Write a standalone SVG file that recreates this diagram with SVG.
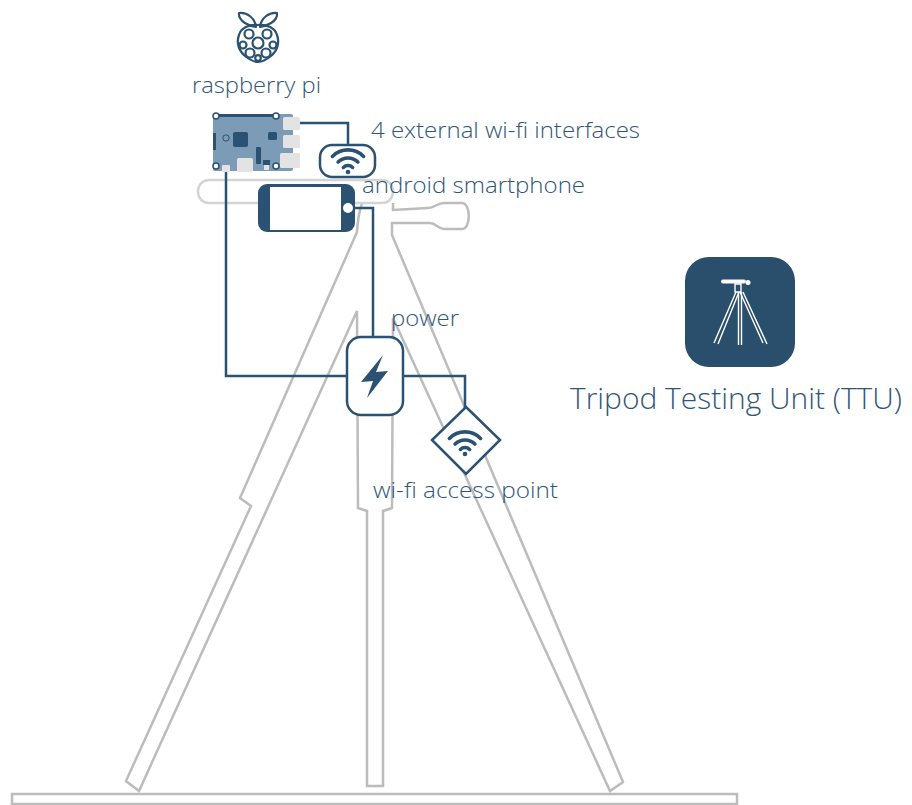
<svg xmlns="http://www.w3.org/2000/svg" width="912" height="805" viewBox="0 0 912 805">
  <style>
    .lbl { font-family: "Open Sans", "Lato", sans-serif; font-weight: 300; fill: #2f5677; }
    .frame { fill: none; stroke: #bcbcbc; stroke-width: 2.5; stroke-linejoin: miter; }
    .wire { fill: none; stroke: #2b5272; stroke-width: 2.5; }
    .box { fill: #fff; stroke: #2b5272; stroke-width: 2.5; }
    .dark { fill: #2b5272; }
    .port { fill: #e3e3e3; }
    .wifi { fill: none; stroke: #2b5272; stroke-width: 3.6; stroke-linecap: round; }
    .tw { fill: none; stroke: #fff; stroke-width: 1.4; }
  </style>
  <defs>
    <!-- wi-fi glyph, dot at (0,10) -->
    <symbol id="wifi-glyph" overflow="visible">
      <path class="wifi" d="M-15.6,-5.6 A22,22 0 0 1 15.6,-5.6"/>
      <path class="wifi" d="M-9.9,0.1 A14,14 0 0 1 9.9,0.1"/>
      <path class="wifi" d="M-4.6,5.4 A6.5,6.5 0 0 1 4.6,5.4"/>
      <circle cx="0" cy="10" r="2.3" fill="#2b5272"/>
    </symbol>
  </defs>

  <!-- tripod frame -->
  <g id="tripod">
    <rect class="frame" x="12" y="794" width="725" height="10"/>
    <path class="frame" d="M362,203 Q358,215 357,232 L240,498 L251,506 L126,781 L139,791 L357,311 L358,508 L367,511 L367,786 L383,786 L383,511 L392,508 L393,318 L610,791 L623,782 L392,235 L392,223 L430,223 C436,223 438,229 444,229 L462,229 C471,229 471,203 462,203 L444,203 C438,203 434,208 428,208 L393,210 L393,203"/>
    <rect x="198" y="180" width="195" height="23" rx="11" fill="#fff" stroke="#d4d4d4" stroke-width="2.5"/>
  </g>

  <!-- connectors -->
  <g id="connectors">
    <polyline class="wire" points="300,123 348,123 348,146"/>
    <polyline class="wire" points="226,172 226,376 347,376"/>
    <polyline class="wire" points="353,208 373,208 373,338"/>
    <polyline class="wire" points="403,376 465,376 465,408"/>
  </g>

  <!-- raspberry pi logo and label -->
  <g id="raspberry-pi-logo" fill="none" stroke="#2b5272" stroke-width="2.2" stroke-linejoin="round">
    <path d="M256,27 C250,26 238,22 239,13 C247,12 255,18 256,27 Z"/>
    <path d="M260,27 C266,26 278,22 277,13 C269,12 261,18 260,27 Z"/>
    <path d="M258,25 C267,24 275,28 277,35 C280,43 277,51 271,56 C266,60 262,62 258,62 C254,62 250,60 245,56 C239,51 236,43 239,35 C241,28 249,24 258,25 Z"/>
    <circle cx="258" cy="43" r="5.5"/>
    <circle cx="249" cy="34" r="4.5"/>
    <circle cx="267" cy="34" r="4.5"/>
    <circle cx="243" cy="45" r="3.5"/>
    <circle cx="273" cy="45" r="3.5"/>
    <circle cx="250" cy="53" r="4.5"/>
    <circle cx="266" cy="53" r="4.5"/>
    <circle cx="258" cy="58" r="2.8"/>
  </g>
  <text class="lbl" x="192" y="93" font-size="22" textLength="129" lengthAdjust="spacingAndGlyphs">raspberry pi</text>

  <!-- raspberry pi board -->
  <g id="pi-board">
    <rect x="213" y="114" width="80" height="57" rx="2" fill="#7b9bb6"/>
    <line x1="216" y1="115.5" x2="276" y2="115.5" stroke="#2b5272" stroke-width="3"/>
    <rect class="port" x="283" y="117" width="17" height="13" rx="1.5"/>
    <rect class="port" x="283" y="135" width="17" height="13" rx="1.5"/>
    <rect class="port" x="280" y="153" width="20" height="15" rx="1.5"/>
    <rect class="port" x="237" y="158" width="16" height="14" rx="1.5"/>
    <rect class="port" x="222" y="165" width="8" height="7" rx="1"/>
    <rect class="dark" x="233" y="132" width="15" height="15" rx="2"/>
    <rect class="dark" x="268" y="132" width="9" height="8" rx="1.5"/>
    <rect class="dark" x="213" y="133" width="3" height="17"/>
    <rect class="dark" x="256" y="147" width="5" height="17" rx="1"/>
    <rect class="dark" x="263" y="160" width="7" height="5"/>
    <rect class="port" x="264" y="165" width="5" height="5"/>
    <circle cx="226" cy="138" r="3.2" fill="none" stroke="#2b5272" stroke-width="1"/>
    <g fill="#fff" stroke="#2b5272" stroke-width="1.5">
      <circle cx="216" cy="116" r="3"/>
      <circle cx="276" cy="116" r="3"/>
      <circle cx="216" cy="166" r="3"/>
      <circle cx="276" cy="166" r="3"/>
    </g>
  </g>

  <!-- wi-fi interfaces -->
  <g id="wifi-interfaces">
    <rect class="box" x="320" y="145" width="55" height="32" rx="12"/>
    <use href="#wifi-glyph" x="348" y="162"/>
    <text class="lbl" x="371" y="138" font-size="22" textLength="269" lengthAdjust="spacingAndGlyphs">4 external wi-fi interfaces</text>
  </g>

  <!-- smartphone -->
  <g id="smartphone">
    <rect class="dark" x="258" y="184" width="97" height="48" rx="9"/>
    <rect x="270" y="187" width="71" height="43" fill="#fff"/>
    <circle cx="348" cy="208" r="5" fill="#fff"/>
    <text class="lbl" x="362" y="193" font-size="22" textLength="223" lengthAdjust="spacingAndGlyphs">android smartphone</text>
  </g>

  <!-- power -->
  <g id="power">
    <rect class="box" x="347" y="337" width="56" height="78" rx="14"/>
    <polygon class="dark" points="383,355 361,382 373,381 367,398 388,371 376,372"/>
    <text class="lbl" x="391" y="326" font-size="22" textLength="68" lengthAdjust="spacingAndGlyphs">power</text>
  </g>

  <!-- wi-fi access point -->
  <g id="access-point">
    <polygon class="box" points="466,407 500,440 466,474 432,440"/>
    <use href="#wifi-glyph" x="465" y="444"/>
    <text class="lbl" x="373" y="498" font-size="22" textLength="185" lengthAdjust="spacingAndGlyphs">wi-fi access point</text>
  </g>

  <!-- tripod testing unit badge -->
  <g id="ttu">
    <rect x="685" y="257" width="110" height="110" rx="24" fill="#2a4f6d"/>
    <line x1="723" y1="281.5" x2="744" y2="281.5" stroke="#fff" stroke-width="4" stroke-linecap="round"/>
    <circle cx="748" cy="282.5" r="2.5" fill="#fff"/>
    <path class="tw" d="M735,284 L741,284 L741,292 L735,292 Z"/>
    <path class="tw" d="M736,292 L714,343 M739,292 L718,344"/>
    <path class="tw" d="M738.5,292 L738.5,345 M741.5,292 L741.5,345"/>
    <path class="tw" d="M740,292 L763,343 M743,292 L767,344"/>
    <text class="lbl" x="570" y="409" font-size="30" textLength="332" lengthAdjust="spacingAndGlyphs">Tripod Testing Unit (TTU)</text>
  </g>
</svg>
